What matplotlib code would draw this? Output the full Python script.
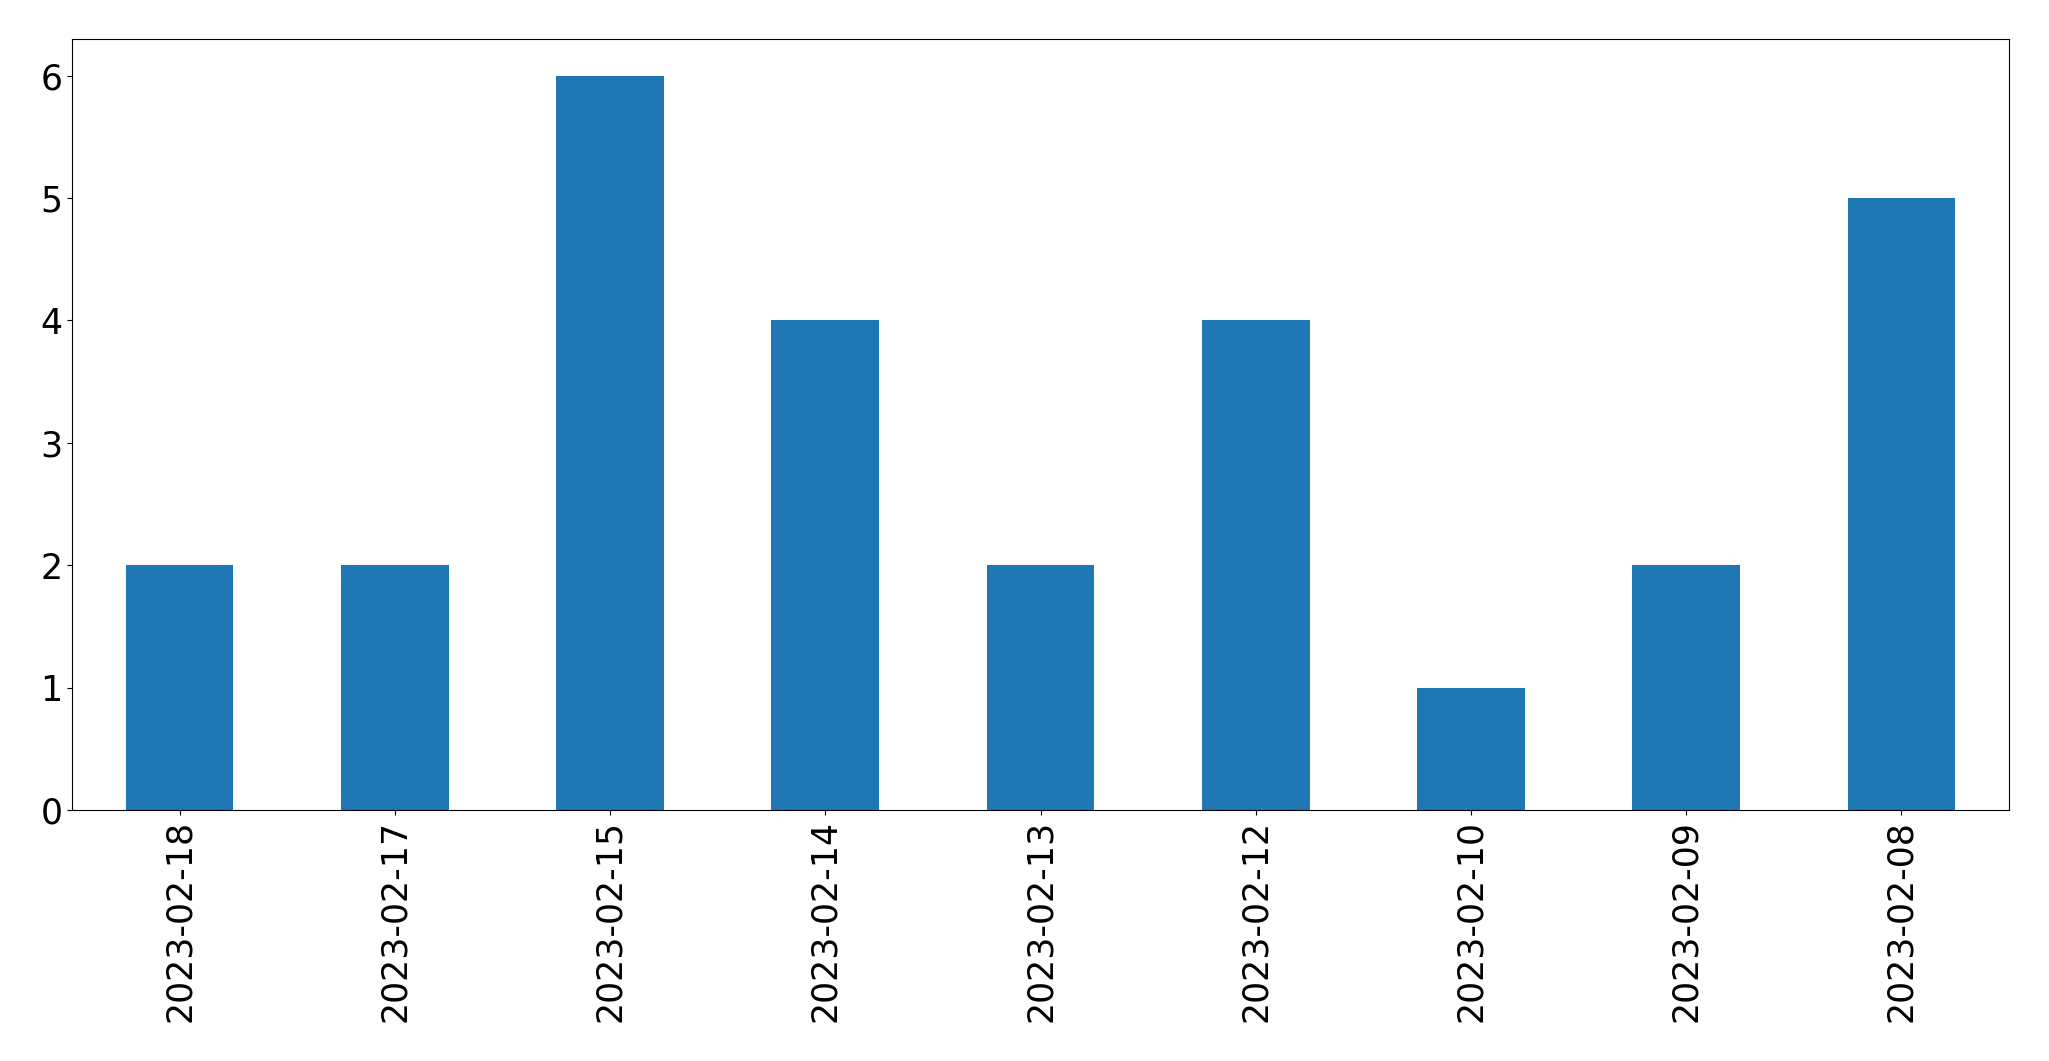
import matplotlib
matplotlib.use("Agg")
import matplotlib.pyplot as plt
import pandas as pd

dates = ["2023-02-18", "2023-02-17", "2023-02-15", "2023-02-14", "2023-02-13",
         "2023-02-12", "2023-02-10", "2023-02-09", "2023-02-08"]
counts = [2, 2, 6, 4, 2, 4, 1, 2, 5]

s = pd.Series(counts, index=dates)

fig, ax = plt.subplots(figsize=(20.49, 10.61), dpi=100)
s.plot(kind="bar", ax=ax, color="#1f77b4")
ax.tick_params(axis="both", labelsize=25)
plt.subplots_adjust(left=72/2049, right=2009/2049, top=1-39/1061, bottom=1-810/1061)
fig.savefig("out.png", dpi=100)
